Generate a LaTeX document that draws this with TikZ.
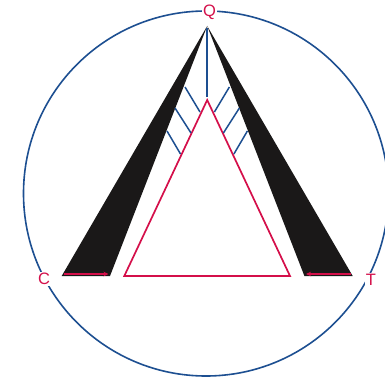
\documentclass[tikz,border=0pt]{standalone}
\usepackage{fontspec}
\setmainfont{Liberation Sans}
\usetikzlibrary{arrows.meta}
\definecolor{cblue}{HTML}{1D4F91}
\definecolor{cred}{HTML}{D40F4A}
\definecolor{cblack}{HTML}{1A1818}
\tikzset{
  ring/.style={draw=cblue, line width=1.6pt},
  wedge/.style={fill=cblack, draw=none},
  redtri/.style={draw=cred, line width=1.7pt, line join=miter},
  redarrow/.style={draw=cred, line width=1.6pt, -{Stealth[length=5pt,width=4.5pt]}},
  blueline/.style={draw=cblue, line width=1.5pt},
  lbl/.style={text=cred, fill=white, inner sep=1pt, font=\fontsize{16.5}{16.5}\selectfont}
}
\begin{document}
\begin{tikzpicture}[x=1pt,y=-1pt]
\useasboundingbox (0,0) rectangle (385,377);
% circle
\draw[ring] (206,193.5) circle[radius=182.5];
% wedges
\coordinate (apex) at (207.2,26);
\coordinate (lw1) at (61.7,276);
\coordinate (lw2) at (110,276);
\coordinate (rw1) at (304.4,276);
\coordinate (rw2) at (352.7,276);
\fill[wedge] (apex) -- (lw1) -- (lw2) -- cycle;
\fill[wedge] (apex) -- (rw2) -- (rw1) -- cycle;
% red arrows on wedge bases
\coordinate (la1) at (64,274);
\coordinate (la2) at (108.5,274);
\coordinate (ra1) at (350.5,274);
\coordinate (ra2) at (306,274);
\draw[redarrow] (la1) -- (la2);
\draw[redarrow] (ra1) -- (ra2);
% red triangle
\coordinate (t1) at (207.2,100);
\coordinate (t2) at (124.3,276);
\coordinate (t3) at (290,276);
\draw[redtri] (t1) -- (t2) -- (t3) -- cycle;
% blue lines
\coordinate (vb) at (207.2,97);
\coordinate (vt) at (207.2,28);
\draw[blueline] (vb) -- (vt);
\coordinate (a1) at (185,87);    \coordinate (b1) at (200,112);
\coordinate (a2) at (175,108);   \coordinate (b2) at (191,133);
\coordinate (a3) at (167,131);   \coordinate (b3) at (180.5,154);
\coordinate (c1) at (229.4,87);  \coordinate (d1) at (214.4,112);
\coordinate (c2) at (239.4,108); \coordinate (d2) at (223.4,133);
\coordinate (c3) at (247.4,131); \coordinate (d3) at (233.9,154);
\draw[blueline] (a1) -- (b1);
\draw[blueline] (a2) -- (b2);
\draw[blueline] (a3) -- (b3);
\draw[blueline] (c1) -- (d1);
\draw[blueline] (c2) -- (d2);
\draw[blueline] (c3) -- (d3);
% labels
\node[lbl] (Q) at (209.5,12) {Q};
\node[lbl] (C) at (44,279) {C};
\node[lbl] (T) at (371,279.5) {T};
\end{tikzpicture}
\end{document}
